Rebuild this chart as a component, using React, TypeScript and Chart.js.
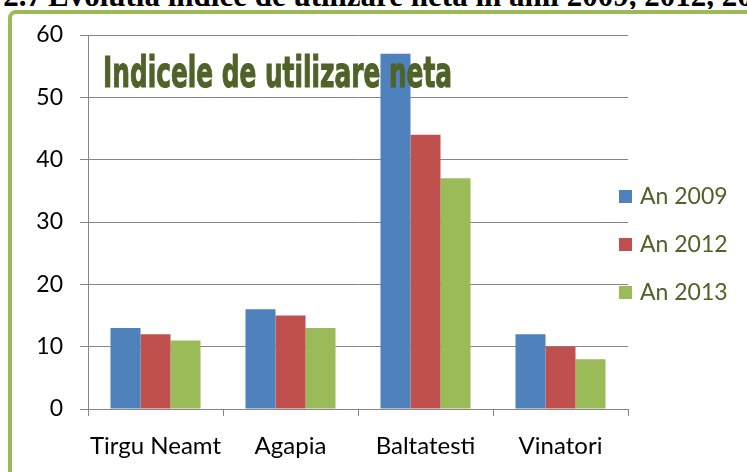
import React, { useEffect, useRef } from "react";
import { Chart, registerables } from "chart.js";

Chart.register(...registerables);

const categories = ["Tirgu Neamt", "Agapia", "Baltatesti", "Vinatori"];
const seriesNames = ["An 2009", "An 2012", "An 2013"];
const an2009 = [13, 16, 57, 12];
const an2012 = [12, 15, 44, 10];
const an2013 = [11, 13, 37, 8];
const yMin = 0;
const yMax = 60;
const yStep = 10;
const chartTitle = "Indicele de utilizare neta";
const captionLead = "Fig. 2.7";
const caption = "Evolutia indice de utilizare neta in anii 2009, 2012, 2013";
const seriesColors = ["#4F81BD", "#C0504D", "#9BBB59"];

const TEXT_GREEN = "#4F6228";
const AXIS_GREY = "#868686";
const FONT = "Lato";

const titlePlugin = {
  id: "overlayTitle",
  afterDatasetsDraw(chart: any) {
    const { ctx, chartArea } = chart;
    ctx.save();
    ctx.font = 'bold 43px "DejaVu Sans"';
    const w = ctx.measureText(chartTitle).width;
    const target = 349;
    ctx.translate(chartArea.left + 15, chartArea.top + 52);
    ctx.scale(target / w, 1);
    ctx.fillStyle = TEXT_GREEN;
    ctx.strokeStyle = TEXT_GREEN;
    ctx.lineWidth = 1.2;
    ctx.textBaseline = "alphabetic";
    ctx.textAlign = "left";
    ctx.fillText(chartTitle, 0, 0);
    ctx.strokeText(chartTitle, 0, 0);
    ctx.restore();
  },
};

const legendPlugin = {
  id: "sideLegend",
  afterDraw(chart: any) {
    const { ctx, chartArea } = chart;
    ctx.save();
    ctx.font = `23px ${FONT}`;
    ctx.textBaseline = "middle";
    ctx.textAlign = "left";
    chart.data.datasets.forEach((ds: any, i: number) => {
      const cy = chartArea.top + 162 + i * 48;
      const x = chartArea.right - 9;
      ctx.fillStyle = ds.backgroundColor;
      ctx.fillRect(x, cy - 7, 13, 13);
      ctx.fillStyle = TEXT_GREEN;
      ctx.fillText(ds.label, x + 21, cy);
    });
    ctx.restore();
  },
};

export default function App() {
  const ref = useRef<HTMLCanvasElement | null>(null);

  useEffect(() => {
    document.body.style.margin = "0";
    const canvas = ref.current;
    if (!canvas) return;
    const seriesValues = [an2009, an2012, an2013];
    const chart = new Chart(canvas, {
      type: "bar",
      data: {
        labels: categories,
        datasets: seriesNames.map((name, i) => ({
          label: name,
          data: seriesValues[i],
          backgroundColor: seriesColors[i],
          borderWidth: 0,
          categoryPercentage: 0.667,
          barPercentage: 1.0,
        })),
      },
      options: {
        responsive: false,
        animation: false,
        events: [],
        layout: { padding: { top: 35, right: 119, bottom: 0, left: 0 } },
        plugins: {
          legend: { display: false },
          title: { display: false },
          tooltip: { enabled: false },
        },
        scales: {
          x: {
            grid: {
              display: true,
              drawOnChartArea: false,
              drawTicks: true,
              tickLength: 7,
              color: AXIS_GREY,
              offset: true,
            },
            border: { display: true, color: AXIS_GREY, width: 1 },
            ticks: {
              color: "#000",
              font: { family: FONT, size: 24 },
              padding: 16,
              maxRotation: 0,
              autoSkip: false,
            },
            afterFit(scale: any) {
              scale.height = 63;
            },
          },
          y: {
            min: yMin,
            max: yMax,
            grid: {
              color: AXIS_GREY,
              tickLength: 8,
              drawTicks: true,
            },
            border: { display: true, color: AXIS_GREY, width: 1 },
            ticks: {
              stepSize: yStep,
              color: "#000",
              font: { family: FONT, size: 23 },
              padding: 17,
            },
            afterFit(scale: any) {
              scale.width = 88;
            },
          },
        },
      },
      plugins: [titlePlugin, legendPlugin],
    });
    return () => chart.destroy();
  }, []);

  return (
    <div
      style={{
        position: "relative",
        width: 747,
        height: 472,
        overflow: "hidden",
        background: "#fff",
      }}
    >
      <div
        style={{
          position: "absolute",
          left: 0,
          top: 0,
          width: 747,
          height: 9,
          overflow: "hidden",
          fontFamily: '"Liberation Serif", serif',
          fontWeight: "bold",
          fontSize: 31,
          lineHeight: "34px",
          whiteSpace: "nowrap",
          color: "#000",
        }}
      >
        <span style={{ position: "absolute", right: 747 - 42, top: -21 }}>{captionLead}</span>
        <span style={{ position: "absolute", left: 48, top: -21 }}>{caption}</span>
      </div>
      <div
        style={{
          position: "absolute",
          left: 8,
          top: 10,
          width: 820,
          height: 520,
          border: "4px solid #9BBB59",
          borderRadius: 8,
          boxSizing: "border-box",
        }}
      />
      <canvas
        ref={ref}
        width={747}
        height={472}
        style={{ position: "absolute", left: 0, top: 0, width: 747, height: 472 }}
      />
    </div>
  );
}
